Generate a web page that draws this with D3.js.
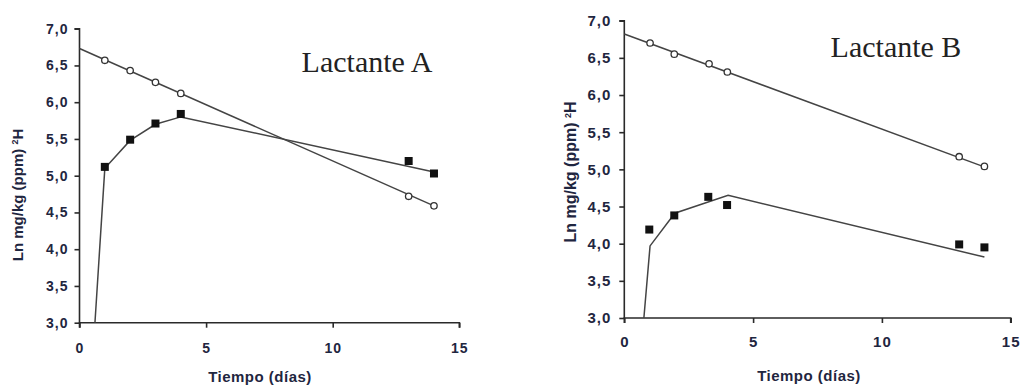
<!DOCTYPE html>
<html>
<head>
<meta charset="utf-8">
<script src="https://cdn.jsdelivr.net/npm/d3@7"></script>
<style>
  body { margin: 0; background: #fff; }
  svg { display: block; }
  .tick text { font-family: "Liberation Sans", Arial, sans-serif; font-weight: bold; fill: #1f2640; letter-spacing: 1px; }
</style>
</head>
<body>
<svg id="chart"></svg>
<script>
// data
const xTicks = [0, 5, 10, 15];
const yTicks = [3.0, 3.5, 4.0, 4.5, 5.0, 5.5, 6.0, 6.5, 7.0];

// Lactante A
const aCircles = [[1, 6.57], [2, 6.43], [3, 6.27], [4, 6.12], [13, 4.72], [14, 4.59]];
const aSquares = [[1, 5.12], [2, 5.49], [3, 5.71], [4, 5.84], [13, 5.20], [14, 5.03]];
const aCircleFit = [[0, 6.73], [14, 4.59]];
const aSquareFit = [[0.61, 3.0], [1, 5.10], [2, 5.48], [3, 5.70], [4, 5.80], [14, 5.05]];

// Lactante B
const bCircles = [[1, 6.70], [1.94, 6.55], [3.29, 6.42], [4, 6.31], [13, 5.17], [13.98, 5.04]];
const bSquares = [[0.97, 4.19], [1.94, 4.38], [3.26, 4.63], [3.99, 4.52], [13, 3.99], [13.98, 3.95]];
const bCircleFit = [[0, 6.82], [14, 5.03]];
const bSquareFit = [[0.76, 3.0], [1.0, 3.97], [1.96, 4.41], [4.03, 4.65], [13.98, 3.82]];

const w = 1026, h = 390;
const svg = d3.select('#chart').attr('width', w).attr('height', h);

const panels = [
  { title: 'Lactante A', x0: 79.5, x1: 459.3, yTop: 28.7, yBot: 322.7,
    titleX: 367, titleY: 72, labelX: 18, labelY: 195, labelSize: 15,
    xTitleX: 260, xTitleY: 382, tickSize: 14, xPad: 15, yPad: 6,
    circles: aCircles, squares: aSquares, circleFit: aCircleFit, squareFit: aSquareFit },
  { title: 'Lactante B', x0: 624.3, x1: 1010.7, yTop: 20.7, yBot: 318,
    titleX: 896, titleY: 57, labelX: 570, labelY: 172, labelSize: 16,
    xTitleX: 809, xTitleY: 381, tickSize: 15, xPad: 13, yPad: 8,
    circles: bCircles, squares: bSquares, circleFit: bCircleFit, squareFit: bSquareFit }
];

const fmt = d => d.toFixed(1).replace('.', ',');

panels.forEach(p => {
  const xScale = d3.scaleLinear().domain([0, 15]).range([p.x0, p.x1]);
  const yScale = d3.scaleLinear().domain([3, 7]).range([p.yBot, p.yTop]);
  const g = svg.append('g');

  // axes
  const xAxis = d3.axisBottom(xScale).tickValues(xTicks).tickSize(5).tickPadding(p.xPad).tickFormat(d3.format('d'));
  g.append('g')
    .attr('transform', 'translate(0,' + p.yBot + ')')
    .call(xAxis)
    .call(s => s.select('.domain').attr('d', 'M' + p.x0 + ',5V0H' + p.x1 + 'V5'));

  const yAxis = d3.axisLeft(yScale).tickValues(yTicks).tickSize(5).tickPadding(p.yPad).tickFormat(fmt);
  g.append('g')
    .attr('transform', 'translate(' + p.x0 + ',0)')
    .call(yAxis)
    .call(s => s.select('.domain').attr('d', 'M-5,' + p.yTop + 'H0V' + p.yBot));

  g.selectAll('.tick text').style('font-size', p.tickSize + 'px');
  g.selectAll('.domain, .tick line').attr('stroke', '#2a2a2a').attr('stroke-width', 1.6);

  // fitted lines
  const line = d3.line().x(d => xScale(d[0])).y(d => yScale(d[1]));
  [p.circleFit, p.squareFit].forEach(fit => {
    g.append('path')
      .attr('d', line(fit))
      .attr('fill', 'none')
      .attr('stroke', '#444')
      .attr('stroke-width', 1.5);
  });

  // markers
  g.selectAll('.sq')
    .data(p.squares)
    .enter()
    .append('rect')
    .attr('x', d => xScale(d[0]) - 4)
    .attr('y', d => yScale(d[1]) - 4)
    .attr('width', 8)
    .attr('height', 8)
    .attr('fill', '#111');

  g.selectAll('.ci')
    .data(p.circles)
    .enter()
    .append('circle')
    .attr('cx', d => xScale(d[0]))
    .attr('cy', d => yScale(d[1]))
    .attr('r', 3.2)
    .attr('fill', '#fff')
    .attr('stroke', '#333')
    .attr('stroke-width', 1.3);

  // texts
  g.append('text')
    .attr('x', p.titleX)
    .attr('y', p.titleY)
    .attr('text-anchor', 'middle')
    .style('font-family', '"Liberation Serif", "Times New Roman", serif')
    .style('font-size', '30px')
    .attr('fill', '#222')
    .text(p.title);

  g.append('text')
    .attr('transform', 'translate(' + p.labelX + ',' + p.labelY + ') rotate(-90)')
    .attr('text-anchor', 'middle')
    .attr('dy', '0.35em')
    .style('font-family', '"Liberation Sans", Arial, sans-serif')
    .style('font-weight', 'bold')
    .style('font-size', p.labelSize + 'px')
    .attr('fill', '#1f2640')
    .html('Ln mg/kg (ppm) <tspan dy="-5" font-size="9">2</tspan><tspan dy="5">H</tspan>');

  g.append('text')
    .attr('x', p.xTitleX)
    .attr('y', p.xTitleY)
    .attr('text-anchor', 'middle')
    .style('font-family', '"Liberation Sans", Arial, sans-serif')
    .style('font-weight', 'bold')
    .style('font-size', '15px')
    .style('letter-spacing', '0.5px')
    .attr('fill', '#1f2640')
    .text('Tiempo (días)');
});
</script>
</body>
</html>
